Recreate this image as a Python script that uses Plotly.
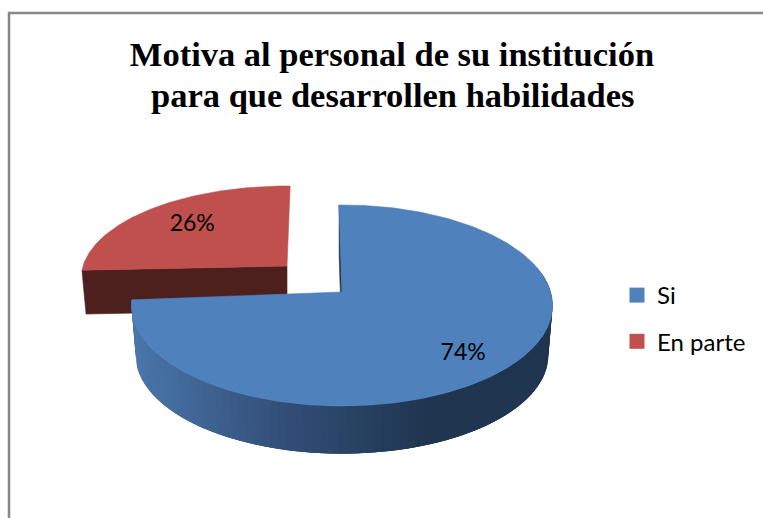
import math
import plotly.graph_objects as go

# Data
categories = ["Si", "En parte"]
values = [74, 26]
colors = ["#4F81BD", "#C0504D"]
wall_dark = ["#1F3550", "#4D1F1D"]
title_lines = ["Motiva al personal de su institución", "para que desarrollen habilidades"]

W, H = 763, 518
total = sum(values)
frac_blue = values[0] / total


def project(theta_deg, r, x0, y0, A, k, p, scale=1.0):
    """Perspective projection of a point on a tilted disc (theta clockwise from 12 o'clock)."""
    t = math.radians(theta_deg)
    u, v = r * math.sin(t), -r * math.cos(t)
    d = 1 - p * v
    return x0 + scale * A * u / d, y0 + scale * k * v / d


def arc(t0, t1, *a, n=120, **kw):
    return [project(t0 + (t1 - t0) * i / n, 1, *a, **kw) for i in range(n + 1)]


def poly(fig, pts, color, lw=0.6):
    xs = [q[0] for q in pts] + [pts[0][0]]
    ys = [q[1] for q in pts] + [pts[0][1]]
    fig.add_trace(go.Scatter(x=xs, y=ys, mode="lines", fill="toself", fillcolor=color,
                             line=dict(color=color, width=lw), hoverinfo="skip", showlegend=False))


def lerp_hex(a, b, f):
    ca = [int(a[i:i + 2], 16) for i in (1, 3, 5)]
    cb = [int(b[i:i + 2], 16) for i in (1, 3, 5)]
    return "#%02x%02x%02x" % tuple(round(x + (y - x) * f) for x, y in zip(ca, cb))


# Projection of both discs
B = (342, 292, 208.6, 98.7, 0.134)   # blue slice top plane
B_low = (342, 342, 208.6, 98.7, 0.134)
R = (287, 266, 204, 90.7, 0.134)     # exploded red slice
R_low = (287, 310, 204, 90.7, 0.134)
rot_b, rot_r = -0.9, 1.0
low_scale = 0.98
label_r = [0.79, 0.69]
label_shift = [5.0, 0.0]

b0, b1 = rot_b, rot_b + 360 * frac_blue
r0, r1 = rot_r + 360 * frac_blue, rot_r + 360

fig = go.Figure()

# Red wall (cut face), then red top
rw_top = [project(r0, 1, *R), project(r0, 0, *R)]
rw_bot = [project(r0, 0, *R_low, scale=low_scale), project(r0, 1, *R_low, scale=low_scale)]
poly(fig, rw_top + rw_bot, wall_dark[1])
poly(fig, arc(r0, r1, *R) + [project(0, 0, *R)], colors[1])

# Blue inner cut wall
poly(fig, [project(b0, 1, *B), project(b0, 0, *B),
           project(b0, 0, *B_low, scale=low_scale), project(b0, 1, *B_low, scale=low_scale)], wall_dark[0])

# Blue outer wall, shaded in overlapping strips by horizontal position
strip_n = 90
grad_left, grad_mid, grad_right = "#4A76AB", "#324F78", "#1F3550"
wall_start = 75
step = (b1 - wall_start) / strip_n
for i in range(strip_n):
    t0 = wall_start + step * i
    t1 = min(t0 + step * 3, b1)
    top = arc(t0, t1, *B, n=6)
    bot = arc(t1, t0, *B_low, n=6, scale=low_scale)
    xm = project(t0 + step / 2, 1, *B)[0]
    f = (xm - 132) / (430 - 132)
    if f >= 1:
        c = grad_right
    elif f > 0.5:
        c = lerp_hex(grad_mid, grad_right, (f - 0.5) / 0.5)
    else:
        c = lerp_hex(grad_left, grad_mid, max(f, 0) / 0.5)
    poly(fig, top + bot, c, lw=0)

# Blue top
poly(fig, arc(b0, b1, *B, n=240) + [project(0, 0, *B)], colors[0])

# Percent labels
mids = [(b0 + b1) / 2, (r0 + r1) / 2]
for i, (v, mid, P) in enumerate(zip(values, mids, (B, R))):
    x, y = project(mid + label_shift[i], label_r[i], *P)
    fig.add_trace(go.Scatter(x=[x], y=[y], mode="text", text=[f"{v}%"], textposition="middle center",
                             textfont=dict(family="Lato", size=23, color="#000000"),
                             hoverinfo="skip", showlegend=False))

# Legend
for i, (name, col) in enumerate(zip(categories, colors)):
    fig.add_trace(go.Scatter(x=[None], y=[None], mode="markers", name=name, legendgroup=name,
                             marker=dict(symbol="square", size=15, color=col)))

title_font = dict(family="Liberation Serif", size=34.5, color="#000000")
fig.update_layout(
    width=W, height=H, autosize=False,
    margin=dict(l=0, r=0, t=0, b=0),
    paper_bgcolor="#FFFFFF", plot_bgcolor="#FFFFFF",
    xaxis=dict(range=[0, W], visible=False, fixedrange=True),
    yaxis=dict(range=[H, 0], visible=False, fixedrange=True),
    title=dict(text=f"<b>{title_lines[0]}</b>", x=392 / W, xanchor="center", y=1 - 42 / H, yanchor="top",
               font=title_font),
    annotations=[dict(text=f"<b>{title_lines[1]}</b>", xref="paper", yref="paper", x=392 / W, y=1 - 74 / H,
                      xanchor="center", yanchor="top", showarrow=False, font=title_font)],
    legend=dict(x=617 / W, y=1 - 273 / H, xanchor="left", yanchor="top", tracegroupgap=12,
                bgcolor="rgba(0,0,0,0)", font=dict(family="Lato", size=24, color="#000000")),
    shapes=[dict(type="rect", xref="paper", yref="paper", x0=9 / W, x1=1.1, y0=1 - 13 / H, y1=-0.1,
                 line=dict(color="#878787", width=2.5), fillcolor="rgba(0,0,0,0)")],
)

fig.write_html("out.html", config={"displayModeBar": False},
               post_script="document.body.style.margin='0';document.documentElement.style.overflow='hidden';")
